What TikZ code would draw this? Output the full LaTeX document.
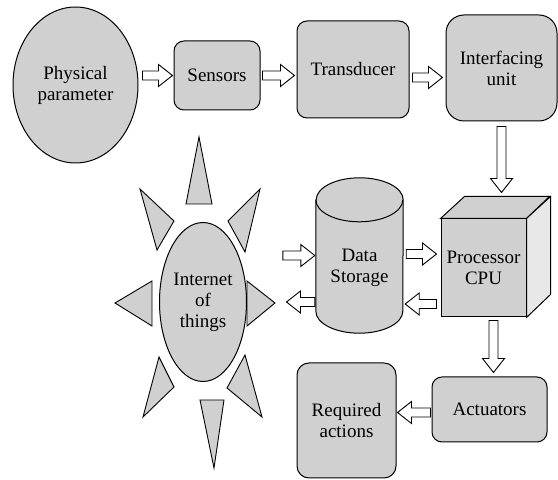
\documentclass[tikz,border=0pt]{standalone}
\usepackage{fontspec}
\setmainfont{LiberationSerif}[Extension=.ttf, UprightFont=*-Regular, BoldFont=*-Bold]
\usetikzlibrary{shapes.geometric,calc}

\definecolor{boxgray}{RGB}{208,208,208}
\definecolor{sidegray}{RGB}{232,232,232}

\tikzset{
  blk/.style={draw, line width=1pt, fill=boxgray, align=center, inner sep=0pt},
  rbox/.style={blk, rectangle, rounded corners=10pt},
  ell/.style={blk, ellipse},
  txt/.style={align=center, inner sep=0pt},
  spike/.style={draw, line width=0.9pt, fill=boxgray, line join=miter},
  arrowline/.style={draw, line width=0.9pt, fill=white, line join=miter}
}

% hollow block arrow from #1 to #2
\newcommand{\blockarrow}[2]{%
  \draw[arrowline] let \p1=#1, \p2=#2, \n1={atan2(\y2-\y1,\x2-\x1)}, \n2={veclen(\x2-\x1,\y2-\y1)} in
    [shift={(\p1)}, rotate=\n1] (0,-4.5) -- (\n2-14,-4.5) -- (\n2-14,-11) -- (\n2,0)
    -- (\n2-14,11) -- (\n2-14,4.5) -- (0,4.5) -- cycle;}

\begin{document}
\begin{tikzpicture}[x=1pt, y=1pt, every node/.style={font=\fontsize{19}{21}\selectfont}]
    \useasboundingbox (0,0) rectangle (558,480);

    % sensing chain
    \node[ell, minimum width=125pt, minimum height=156pt] (phys) at (75.5, 395) {Physical\\parameter};
    \node[rbox, minimum width=86pt, minimum height=69pt] (sens) at (217, 404.5) {Sensors};
    \node[rbox, minimum width=112pt, minimum height=97pt] (trans) at (353, 410.5) {Transducer};
    \node[rbox, rounded corners=18pt, minimum width=111pt, minimum height=106pt] (iface) at (501.5, 412) {Interfacing\\unit};

    % processor (cube)
    \node[blk, rectangle, minimum width=85pt, minimum height=98pt] (cpu) at (483.5, 212) {Processor\\CPU};
    \draw[blk] (cpu.north west) -- ++(24,22) -- ++(85,0) -- (cpu.north east) -- cycle;
    \draw[blk, fill=sidegray] (cpu.north east) -- ++(24,22) -- ++(0,-98) -- (cpu.south east) -- cycle;

    % data storage (cylinder)
    \node[minimum width=87pt, minimum height=155pt, inner sep=0pt] (ds) at (359.5, 224.5) {};
    \draw[blk] ($(ds.north west)+(0,-22)$) -- ($(ds.south west)+(0,22)$)
        arc[start angle=180, end angle=360, x radius=43.5, y radius=22]
        -- ($(ds.north east)+(0,-22)$)
        arc[start angle=0, end angle=180, x radius=43.5, y radius=22] -- cycle;
    \draw[line width=1pt] ($(ds.north west)+(0,-22)$) arc[start angle=180, end angle=360, x radius=43.5, y radius=22];
    \node[txt] (dstext) at ($(ds.center)+(0,-12)$) {Data\\Storage};

    % outputs
    \node[rbox, minimum width=115pt, minimum height=65pt] (act) at (489.5, 70.5) {Actuators};
    \node[rbox, rounded corners=12pt, minimum width=99pt, minimum height=115pt] (req) at (346.5, 59.5) {Required\\actions};

    % internet of things with rays
    \node[ell, minimum width=87pt, minimum height=159pt] (iot) at (203, 178) {Internet\\of\\things};
    \draw[spike] (186, 276) -- (199, 343) -- (212, 276) -- cycle;
    \draw[spike] (174, 259) -- (140, 291) -- (157, 230) -- cycle;
    \draw[spike] (228, 259) -- (260, 291) -- (245, 228) -- cycle;
    \draw[spike] (152, 199) -- (115, 177) -- (152, 154) -- cycle;
    \draw[spike] (247, 199) -- (275, 177) -- (247, 154) -- cycle;
    \draw[spike] (159, 123) -- (143, 63) -- (174, 93) -- cycle;
    \draw[spike] (245, 125) -- (262, 63) -- (227, 92) -- cycle;
    \draw[spike] (200, 80) -- (214, 12) -- (224, 80) -- cycle;

    % arrows
    \blockarrow{($(phys.east |- sens.west)+(4,0)$)}{($(sens.west)+(-1,0)$)}
    \blockarrow{($(sens.east)+(2,0)$)}{($(trans.west |- sens.east)+(-2,0)$)}
    \blockarrow{($(trans.east)+(3,-8)$)}{($(iface.west |- trans.east)+(-3,-8)$)}
    \blockarrow{($(iface.south)+(0,-5)$)}{($(iface.south |- cpu.north)+(0,26)$)}
    \blockarrow{($(ds.east)+(3,1.5)$)}{($(cpu.west |- ds.east)+(-4,1.5)$)}
    \blockarrow{($(cpu.west)+(-4,-36)$)}{($(ds.east |- cpu.west)+(2,-36)$)}
    \blockarrow{($(ds.west)+(-33,0)$)}{($(ds.west)+(-1,0)$)}
    \blockarrow{($(ds.west |- iot.east)+(-1,0)$)}{($(iot.east)+(39.5,0)$)}
    \blockarrow{($(act.north |- cpu.south)+(4,-3)$)}{($(act.north)+(4,4)$)}
    \blockarrow{($(act.west)+(-1,-3)$)}{($(req.east |- act.west)+(1,-3)$)}
\end{tikzpicture}
\end{document}
